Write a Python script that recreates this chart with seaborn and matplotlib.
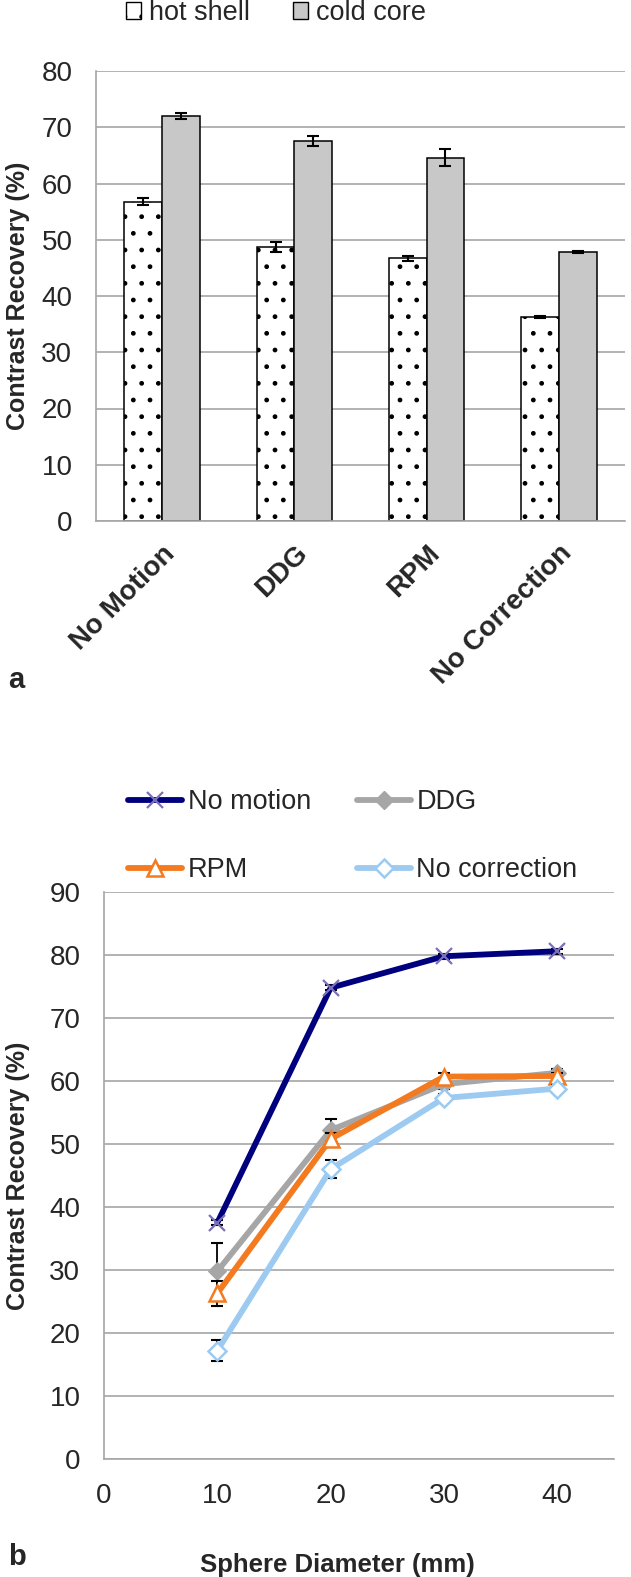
import matplotlib
matplotlib.use("Agg")
import matplotlib.pyplot as plt
from matplotlib.patches import Patch
from matplotlib.lines import Line2D
import pandas as pd
import seaborn as sns

# panel a: contrast recovery per method
methods = ["No Motion", "DDG", "RPM", "No Correction"]
hot_shell = [56.8, 48.7, 46.7, 36.3]
hot_shell_err = [0.7, 0.9, 0.5, 0.2]
cold_core = [72.0, 67.5, 64.6, 47.8]
cold_core_err = [0.5, 0.9, 1.5, 0.2]

# panel b: contrast recovery vs sphere diameter
diameters = [10, 20, 30, 40]
no_motion = [37.5, 74.8, 79.8, 80.6]
no_motion_err = [0.4, 0.4, 0.4, 0.4]
ddg = [29.8, 52.2, 59.5, 61.3]
ddg_err = [4.5, 1.8, 0.8, 0.6]
rpm = [26.3, 50.8, 60.7, 60.8]
rpm_err = [2.0, 1.0, 0.6, 0.5]
no_correction = [17.2, 46.0, 57.3, 58.8]
no_correction_err = [1.7, 1.4, 0.6, 0.5]

GRID = "#a6a6a6"
GREY_BAR = "#c8c8c8"

sns.set_style("white")
plt.rcParams["font.family"] = ["Liberation Sans", "DejaVu Sans"]
plt.rcParams["hatch.color"] = "black"
plt.rcParams["hatch.linewidth"] = 1.0

fig = plt.figure(figsize=(6.31, 15.77), dpi=100)
ax1 = fig.add_axes([96 / 631, 1 - 521 / 1577, (625 - 96) / 631, 450 / 1577])
ax2 = fig.add_axes([104 / 631, 1 - 1459 / 1577, (614 - 104) / 631, 567 / 1577])


def style_axes(ax):
    ax.set_axisbelow(True)
    ax.yaxis.grid(True, color=GRID, linewidth=1.2)
    ax.xaxis.grid(False)
    for side in ["top", "right"]:
        ax.spines[side].set_visible(False)
    for side in ["left", "bottom"]:
        ax.spines[side].set_color(GRID)
        ax.spines[side].set_linewidth(1.2)
    ax.tick_params(axis="both", which="both", direction="out", color=GRID,
                   width=1.2, length=7, labelsize=20, pad=10)


# ---- panel a ----
df_a = pd.DataFrame({
    "method": methods * 2,
    "group": ["hot shell"] * 4 + ["cold core"] * 4,
    "value": hot_shell + cold_core,
})
sns.barplot(data=df_a, x="method", y="value", hue="group",
            palette={"hot shell": "white", "cold core": GREY_BAR},
            width=0.57, edgecolor="black", linewidth=1.1,
            errorbar=None, legend=False, ax=ax1)
for bar in ax1.containers[0]:
    bar.set_hatch(".")

for cont, vals, errs in [(ax1.containers[0], hot_shell, hot_shell_err),
                         (ax1.containers[1], cold_core, cold_core_err)]:
    xs = [b.get_x() + b.get_width() / 2 for b in cont]
    ax1.errorbar(xs, vals, yerr=errs, fmt="none", ecolor="black",
                 elinewidth=1.5, capsize=4.5, capthick=1.5, zorder=5)

style_axes(ax1)
ax1.set_ylim(0, 80)
ax1.set_yticks(range(0, 81, 10))
ax1.set_xlim(-0.5, 3.5)
ax1.set_xticks(range(4))
ax1.set_xticklabels(methods, rotation=45, ha="right", rotation_mode="anchor",
                    fontweight="bold", fontsize=20)
ax1.set_xticks([-0.5, 0.5, 1.5, 2.5, 3.5], minor=True)
ax1.tick_params(axis="x", which="major", length=0, pad=14)
ax1.set_xlabel("")
ax1.set_ylabel("Contrast Recovery (%)", fontsize=18, fontweight="bold")
ax1.yaxis.set_label_coords(-0.125, 0.5)

fig.legend(handles=[Patch(facecolor="white", edgecolor="black", hatch="."),
                    Patch(facecolor=GREY_BAR, edgecolor="black")],
           labels=["hot shell", "cold core"], ncol=2, loc="center left",
           bbox_to_anchor=(126 / 631, 1 - 13 / 1577), frameon=False,
           fontsize=19.5, handlelength=0.55, handleheight=0.55,
           handletextpad=0.3, columnspacing=1.6, borderpad=0,
           borderaxespad=0)

# ---- panel b ----
series = [
    ("No motion", no_motion, no_motion_err,
     dict(color="#00007f", marker="x", markersize=12, markeredgewidth=1.6,
          markeredgecolor="#7b6fb8")),
    ("DDG", ddg, ddg_err,
     dict(color="#a6a6a6", marker="D", markersize=9,
          markerfacecolor="#a6a6a6", markeredgecolor="#a6a6a6")),
    ("RPM", rpm, rpm_err,
     dict(color="#f47a20", marker="^", markersize=12, markeredgewidth=1.8,
          markerfacecolor="white", markeredgecolor="#f47a20")),
    ("No correction", no_correction, no_correction_err,
     dict(color="#9dcaf0", marker="D", markersize=9.5, markeredgewidth=1.8,
          markerfacecolor="white", markeredgecolor="#9dcaf0")),
]

handles = {}
for i, (name, vals, errs, kw) in enumerate(series):
    ax2.errorbar(diameters, vals, yerr=errs, fmt="none", ecolor="black",
                 elinewidth=1.3, capsize=4, capthick=1.5, zorder=2 + i)
    sns.lineplot(x=diameters, y=vals, ax=ax2, linewidth=4.2, zorder=2.5 + i,
                 legend=False, **kw)
    handles[name] = Line2D([], [], linewidth=4.2, solid_capstyle="round", **kw)

style_axes(ax2)
ax2.set_xlim(0, 45)
ax2.set_xticks(range(0, 41, 10))
ax2.set_ylim(0, 90)
ax2.set_yticks(range(0, 91, 10))
ax2.set_xlabel("Sphere Diameter (mm)", fontsize=18.5, fontweight="bold")
ax2.xaxis.set_label_coords(0.457, -0.165)
ax2.set_ylabel("Contrast Recovery (%)", fontsize=18, fontweight="bold")
ax2.yaxis.set_label_coords(-0.145, 0.5)

order = ["No motion", "RPM", "DDG", "No correction"]
fig.legend(handles=[handles[n] for n in order], labels=order, ncol=2,
           loc="upper left", bbox_to_anchor=(128 / 631, 1 - 789 / 1577),
           frameon=False, fontsize=19.5, handlelength=2.0,
           handletextpad=0.2, columnspacing=1.7, labelspacing=1.55,
           borderpad=0, borderaxespad=0)

fig.text(8 / 631, 1 - 680 / 1577, "a", fontsize=21, fontweight="bold", va="center")
fig.text(8 / 631, 1 - 1557 / 1577, "b", fontsize=21, fontweight="bold", va="center")

fig.savefig("out.png", dpi=100)
